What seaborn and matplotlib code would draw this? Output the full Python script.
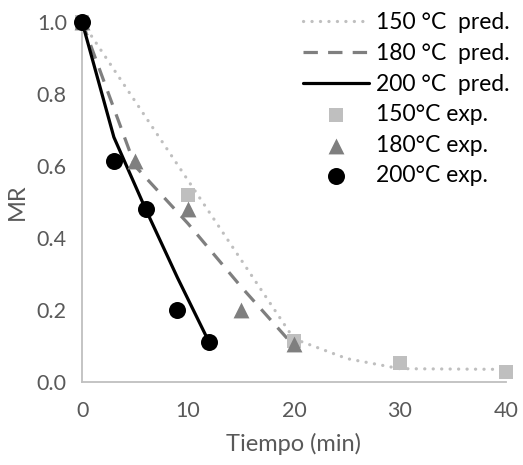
import matplotlib
matplotlib.use("Agg")
import matplotlib.pyplot as plt
import seaborn as sns

# Predicted drying curves (moisture ratio vs time)
t_pred_150 = [0, 10, 20, 25, 30, 40]
mr_pred_150 = [1.0, 0.56, 0.12, 0.065, 0.037, 0.035]
t_pred_180 = [0, 5, 10, 15, 20]
mr_pred_180 = [1.0, 0.60, 0.44, 0.265, 0.10]
t_pred_200 = [0, 3, 6, 9, 12]
mr_pred_200 = [1.0, 0.68, 0.48, 0.29, 0.11]

# Experimental points
t_exp_150 = [0, 10, 20, 30, 40]
mr_exp_150 = [1.0, 0.52, 0.115, 0.052, 0.028]
t_exp_180 = [0, 5, 10, 15, 20]
mr_exp_180 = [1.0, 0.615, 0.48, 0.20, 0.105]
t_exp_200 = [0, 3, 6, 9, 12]
mr_exp_200 = [1.0, 0.615, 0.48, 0.20, 0.11]

x_ticks = [0, 10, 20, 30, 40]
y_ticks = [0.0, 0.2, 0.4, 0.6, 0.8, 1.0]

sns.set_style("white")
plt.rcParams["font.family"] = ["Lato", "DejaVu Sans"]

fig = plt.figure(figsize=(5.23, 4.65), dpi=100)
ax = fig.add_axes([0.157, 0.1785, 0.81, 0.7742])

light, mid, dark = "#bfbfbf", "#7f7f7f", "#000000"
lw = 2.3

sns.lineplot(x=t_pred_150, y=mr_pred_150, ax=ax, color=light, lw=lw,
             label="150 °C  pred.", zorder=2)
ax.lines[-1].set_linestyle((0, (0.05, 2.6)))
ax.lines[-1].set_dash_capstyle("round")
sns.lineplot(x=t_pred_180, y=mr_pred_180, ax=ax, color=mid, lw=lw,
             label="180 °C  pred.", zorder=2)
ax.lines[-1].set_linestyle((0, (4.5, 3.2)))
sns.lineplot(x=t_pred_200, y=mr_pred_200, ax=ax, color=dark, lw=lw,
             label="200 °C  pred.", zorder=2)

sns.scatterplot(x=t_exp_150, y=mr_exp_150, ax=ax, color=light, marker="s",
                s=115, linewidth=0, label="150°C exp.", zorder=3)
sns.scatterplot(x=t_exp_180, y=mr_exp_180, ax=ax, color=mid, marker="^",
                s=130, linewidth=0, label="180°C exp.", zorder=4)
sns.scatterplot(x=t_exp_200, y=mr_exp_200, ax=ax, color=dark, marker="o",
                s=150, linewidth=0, label="200°C exp.", zorder=5)

ax.set_xlim(0, 40)
ax.set_ylim(0, 1.0)
ax.set_xticks(x_ticks)
ax.set_yticks(y_ticks)
ax.set_yticklabels([f"{v:.1f}" for v in y_ticks])
for s in ["top", "right"]:
    ax.spines[s].set_visible(False)
for s in ["left", "bottom"]:
    ax.spines[s].set_color("#bfbfbf")
    ax.spines[s].set_linewidth(1.3)
ax.tick_params(axis="both", colors="#bfbfbf", length=5, width=1.3,
               labelcolor="#595959", labelsize=15.5, direction="out")
ax.tick_params(axis="x", pad=9)
ax.tick_params(axis="y", pad=6)
for artist in ax.collections + ax.lines:
    artist.set_clip_on(False)

ax.set_xlabel("Tiempo (min)", fontsize=17, color="#595959", labelpad=8)
ax.set_ylabel("MR", fontsize=17, color="#595959", labelpad=6)

leg = ax.legend(loc="upper right", bbox_to_anchor=(1.005, 1.008),
                bbox_transform=fig.transFigure, frameon=False, fontsize=16.5,
                handlelength=2.9, handletextpad=0.3, labelspacing=0.42,
                borderpad=0.2, markerscale=1.0)
for txt in leg.get_texts():
    txt.set_color("#000000")

fig.savefig("out.png", dpi=100)
